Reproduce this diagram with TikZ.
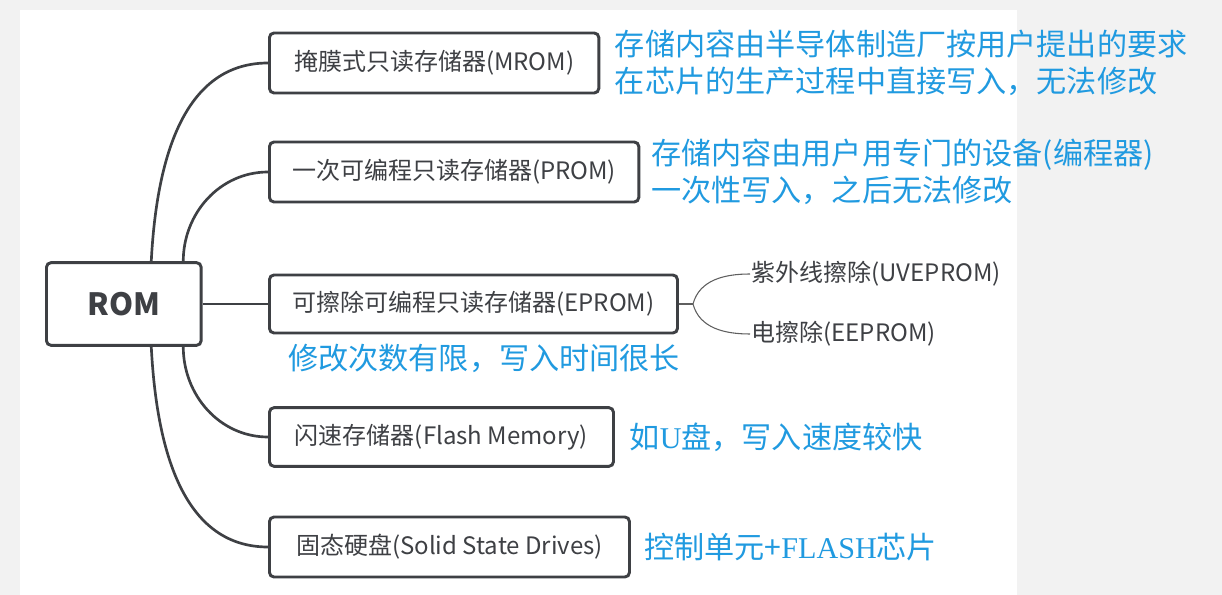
\documentclass[tikz,border=0pt]{standalone}
\usepackage{fontspec}
\newfontfamily\cjk{Noto Sans CJK SC}
\newfontfamily\latinserif{Liberation Serif}
\usepackage{tikz}
\usetikzlibrary{positioning}
\definecolor{RomGray}{RGB}{62,64,68}
\definecolor{TwigGray}{RGB}{95,95,95}
\definecolor{NoteBlue}{RGB}{32,154,224}
\definecolor{PageGray}{RGB}{242,242,242}

\begin{document}
\begin{tikzpicture}[
  x=0.75pt,y=-0.75pt,
  node distance=3.8mm,
  box/.style={
    draw=RomGray,line width=2.2pt,rounded corners=1.2mm,
    anchor=west,minimum height=45pt,inner sep=2mm,
    text=RomGray,font=\cjk\fontsize{18}{21}\selectfont
  },
  note/.style={
    align=left,inner sep=0pt,text=NoteBlue,
    font=\cjk\fontsize{22.6}{27.5}\selectfont
  },
  leaf/.style={anchor=west,inner sep=1pt,text=RomGray,
    font=\cjk\fontsize{18}{21}\selectfont},
  branch/.style={draw=RomGray,line width=2pt},
  twig/.style={draw=TwigGray,line width=0.8pt}
]
  % page
  \fill[PageGray] (0,0) rectangle (1222,595);
  \fill[white] (20,10) rectangle (1017,595);
  \useasboundingbox (0,0) rectangle (1222,595);

  % root and kinds
  \node[box,minimum width=116pt,minimum height=62pt,
    font=\cjk\bfseries\fontsize{23}{26}\selectfont] (rom) at (45,304) {ROM};
  \node[box,minimum width=247pt] (mrom) at (268,63) {掩膜式只读存储器(MROM)};
  \node[box,minimum width=277pt] (prom) at (268,172) {一次可编程只读存储器(PROM)};
  \node[box,minimum width=306pt,minimum height=43.5pt] (eprom) at (268,304)
    {可擦除可编程只读存储器(EPROM)};
  \node[box,minimum width=258pt,minimum height=44pt] (flash) at (268,437)
    {闪速存储器(Flash Memory)};
  \node[box,minimum width=270pt] (ssd) at (268,547)
    {固态硬盘(Solid State Drives)};

  % EPROM sub kinds
  \coordinate (fork) at (693,304);
  \node[leaf] (uv) at (750,274) {紫外线擦除(UVEPROM)};
  \node[leaf] (ee) at (750,334) {电擦除(EEPROM)};

  % notes
  \node[note,right=of mrom] (mnote)
    {存储内容由半导体制造厂按用户提出的要求\\在芯片的生产过程中直接写入，无法修改};
  \node[note,right=2.8mm of prom] (pnote)
    {存储内容由用户用专门的设备(编程器)\\一次性写入，之后无法修改};
  \node[note,anchor=west] (enote) at (288,358) {修改次数有限，写入时间很长};
  \node[note,right=of flash] (fnote) {如{\latinserif U}盘，写入速度较快};
  \node[note,right=3.4mm of ssd] (snote) {控制单元+{\latinserif FLASH}芯片};

  % connectors
  \draw[branch] ([xshift=20.6pt]rom.north) to[out=87,in=180] (mrom.west);
  \draw[branch] ([xshift=44.6pt]rom.north) to[out=90,in=180] (prom.west);
  \draw[branch] (rom.east) -- (eprom.west);
  \draw[branch] ([xshift=44.6pt]rom.south) to[out=-90,in=180] (flash.west);
  \draw[branch] ([xshift=20.6pt]rom.south) to[out=-87,in=180] (ssd.west);

  \draw[twig] (eprom.east) -- (fork);
  \draw[twig] (fork) to[out=75,in=180] (uv.west);
  \draw[twig] (fork) to[out=-75,in=180] (ee.west);
\end{tikzpicture}
\end{document}
